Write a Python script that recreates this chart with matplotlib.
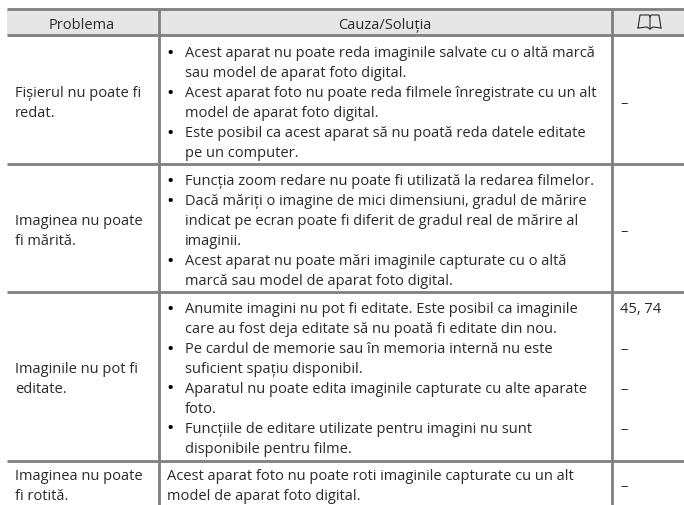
import matplotlib
matplotlib.use("Agg")
import matplotlib.pyplot as plt

headers = ["Problema", "Cauza/Soluția"]

problems = [
    ["Fișierul nu poate fi", "redat."],
    ["Imaginea nu poate", "fi mărită."],
    ["Imaginile nu pot fi", "editate."],
    ["Imaginea nu poate", "fi rotită."],
]

causes = [
    [("•", "Acest aparat nu poate reda imaginile salvate cu o altă marcă"),
     ("", "sau model de aparat foto digital."),
     ("•", "Acest aparat foto nu poate reda filmele înregistrate cu un alt"),
     ("", "model de aparat foto digital."),
     ("•", "Este posibil ca acest aparat să nu poată reda datele editate"),
     ("", "pe un computer.")],
    [("•", "Funcția zoom redare nu poate fi utilizată la redarea filmelor."),
     ("•", "Dacă măriți o imagine de mici dimensiuni, gradul de mărire"),
     ("", "indicat pe ecran poate fi diferit de gradul real de mărire al"),
     ("", "imaginii."),
     ("•", "Acest aparat nu poate mări imaginile capturate cu o altă"),
     ("", "marcă sau model de aparat foto digital.")],
    [("•", "Anumite imagini nu pot fi editate. Este posibil ca imaginile"),
     ("", "care au fost deja editate să nu poată fi editate din nou."),
     ("•", "Pe cardul de memorie sau în memoria internă nu este"),
     ("", "suficient spațiu disponibil."),
     ("•", "Aparatul nu poate edita imaginile capturate cu alte aparate"),
     ("", "foto."),
     ("•", "Funcțiile de editare utilizate pentru imagini nu sunt"),
     ("", "disponibile pentru filme.")],
    [("", "Acest aparat foto nu poate roti imaginile capturate cu un alt"),
     ("", "model de aparat foto digital.")],
]

# one ref is centred in its row, several follow the bullets
refs = [["–"], ["–"], ["45, 74", "–", "–", "–"], ["–"]]

FONT = "Open Sans"
FS = 10.55
INK = "#2a2a2a"
GRAY = "#808080"
LH = 20
LW = 2.8 * 72 / 100

row_lines = [36, 165, 293, 462]
row_mids = [103.5, 231.5, 379.5, 486.5]
col_lines = [158.5, 611.5]

fig = plt.figure(figsize=(6.84, 5.06), dpi=100)
ax = fig.add_axes([0, 0, 1, 1])
ax.set_xlim(0, 684)
ax.set_ylim(506, 0)
ax.axis("off")

ax.fill_between([7, 684], 10, 36, color="#e6e6e6", lw=0)
ax.plot([7, 684], [10, 10], color=GRAY, lw=LW, solid_capstyle="butt")
for y in row_lines:
    ax.plot([7, 684], [y, y], color=GRAY, lw=LW, solid_capstyle="butt")
for x in col_lines:
    ax.plot([x, x], [10, 506], color=GRAY, lw=LW, solid_capstyle="butt")

ax.text(82, 25, headers[0], ha="center", va="center", fontsize=FS, family=FONT, color=INK)
ax.text(385, 25, headers[1], ha="center", va="center", fontsize=FS, family=FONT, color=INK)

# book icon in the header
ax.plot([638, 640, 649, 650, 650], [29, 16, 16, 18, 30], color=INK, lw=0.8)
ax.plot([650, 651, 659, 661], [18, 16, 16, 29], color=INK, lw=0.8)
ax.plot([638, 647, 650, 653, 661], [29, 28, 30, 28, 29], color=INK, lw=0.8)

for i in range(len(problems)):
    mid = row_mids[i]
    n = len(problems[i])
    for j, line in enumerate(problems[i]):
        ax.text(15, mid + (j - (n - 1) / 2) * LH, line, va="center", fontsize=FS, family=FONT, color=INK)
    n = len(causes[i])
    k = 0
    for j, (bullet, line) in enumerate(causes[i]):
        y = mid + (j - (n - 1) / 2) * LH
        if bullet:
            ax.text(170, y, bullet, ha="center", va="center", fontsize=14, family=FONT, color="black")
        ax.text(185 if i < 3 else 167, y, line, va="center", fontsize=FS, family=FONT, color=INK)
        if len(refs[i]) > 1 and bullet:
            ax.text(620, y, refs[i][k], va="center", fontsize=FS, family=FONT, color=INK)
            k += 1
    if len(refs[i]) == 1:
        ax.text(620, mid, refs[i][0], va="center", fontsize=FS, family=FONT, color=INK)

fig.savefig("out.png", dpi=100)
